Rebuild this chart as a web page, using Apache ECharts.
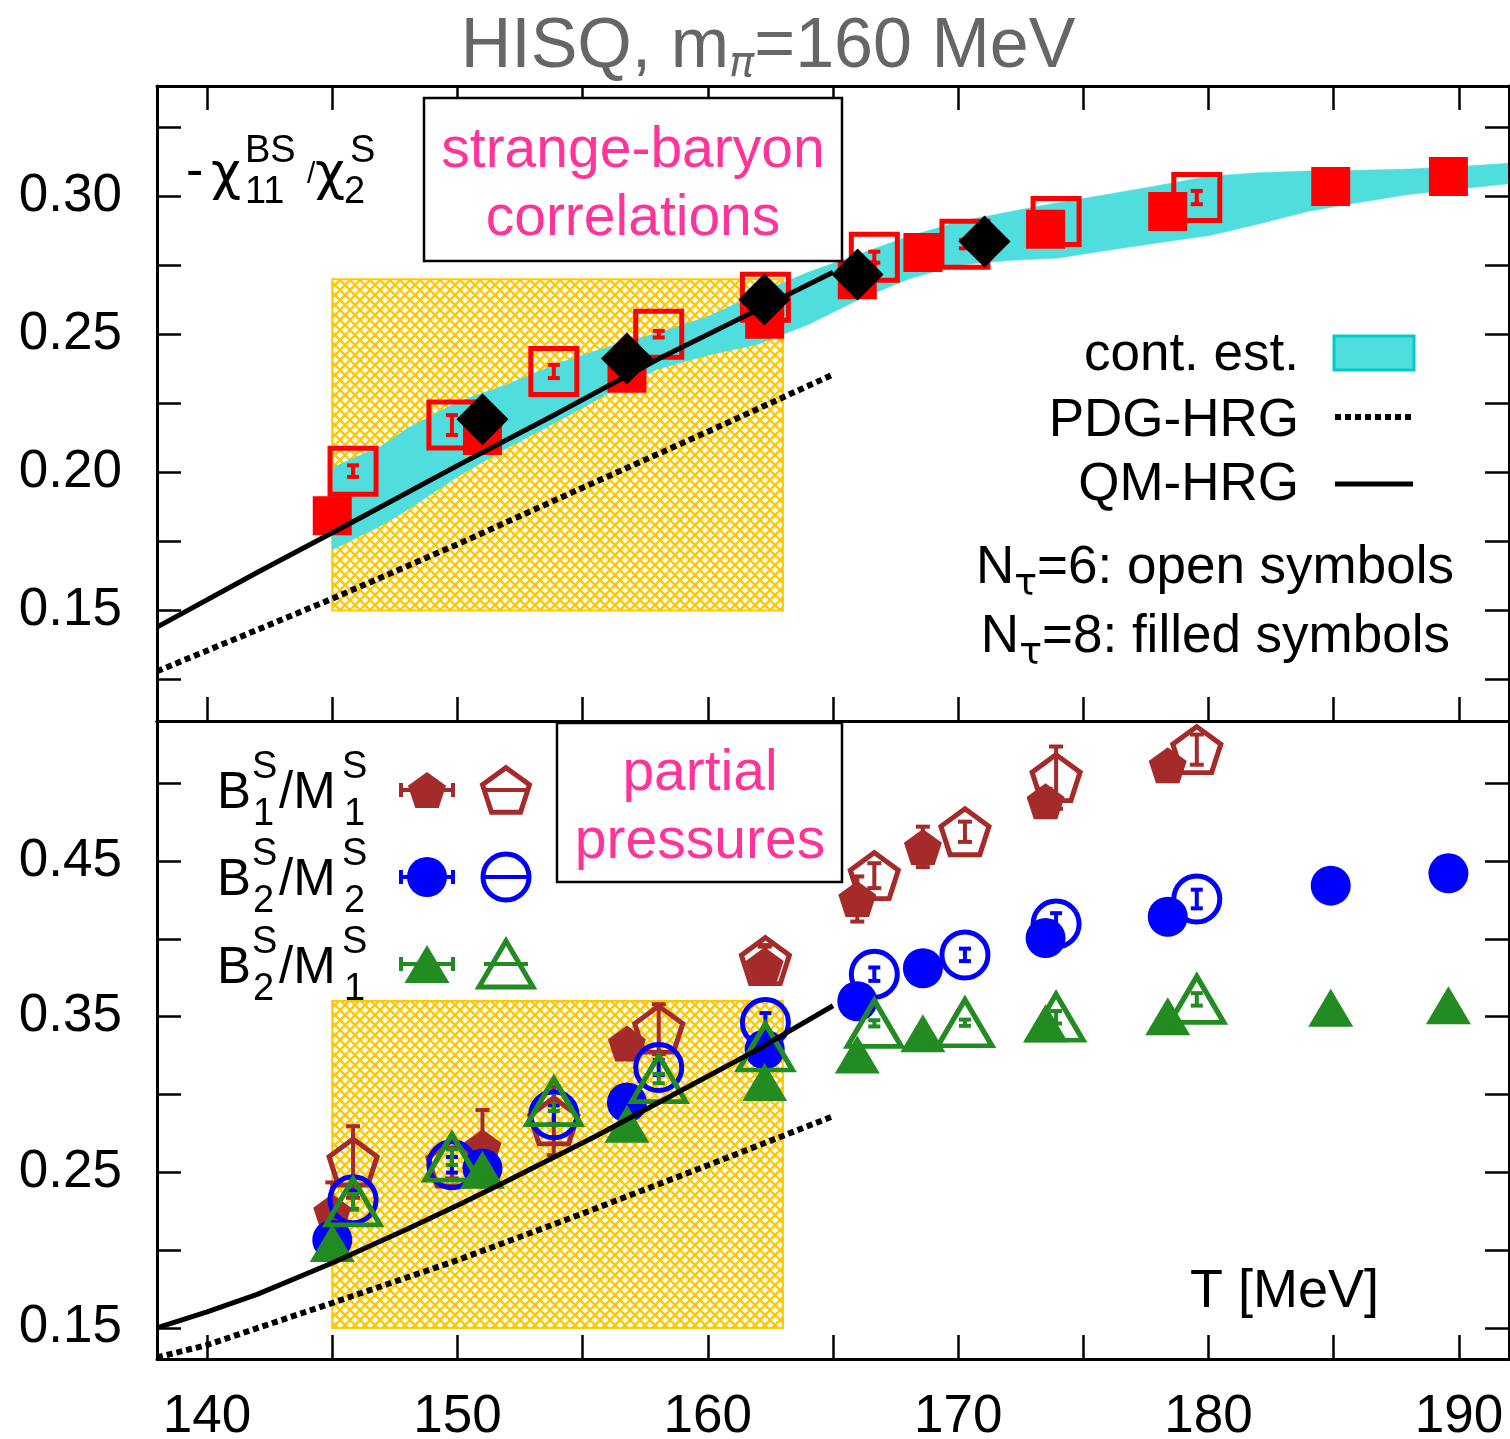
<!DOCTYPE html>
<html>
<head>
<meta charset="utf-8">
<script src="https://cdn.jsdelivr.net/npm/echarts@6/dist/echarts.min.js"></script>
<style>
  html, body { margin: 0; padding: 0; background: #fff; }
  #chart { width: 1510px; height: 1439px; }
</style>
</head>
<body>
<div id="chart"></div>
<script>
// ---------- axis ticks and labels ----------
const xTicks = [140, 145, 150, 155, 160, 165, 170, 175, 180, 185, 190];
const xTickLabels = [140, 150, 160, 170, 180, 190];
const topYTicks = [0.125, 0.15, 0.175, 0.2, 0.225, 0.25, 0.275, 0.3, 0.325];
const topYTickLabels = [0.15, 0.2, 0.25, 0.3];
const botYTicks = [0.15, 0.2, 0.25, 0.3, 0.35, 0.4, 0.45, 0.5];
const botYTickLabels = [0.15, 0.25, 0.35, 0.45];

// ---------- lattice temperatures (MeV) ----------
const tempsNt8 = [145.0, 151.0, 156.77, 162.27, 165.97, 168.59, 173.49, 178.37, 184.88, 189.58];
const tempsNt6 = [145.83, 149.78, 153.85, 158.04, 162.3, 166.65, 170.27, 173.91, 179.53];

// ---------- -chi11^BS / chi2^S ----------
const corrNt8 = [0.1843, 0.2134, 0.2360, 0.2555, 0.2698, 0.2797, 0.2881, 0.2945, 0.3036, 0.3072];
const corrNt6 = [0.2005, 0.2172, 0.2366, 0.2501, 0.2635, 0.2780, 0.2827, 0.2909, 0.2996];
const corrNt6Err = [0.0021, 0.0036, 0.0024, 0.0012, 0.0015, 0.0020, 0.0015, 0.0015, 0.0024];
const diamondTemps = [151.0, 156.77, 162.26, 165.98, 171.05];
const diamondCorr = [0.2193, 0.2413, 0.2627, 0.2717, 0.2837];

// continuum estimate band
const bandTemps = [145, 147, 148, 150, 152, 154, 156, 158, 160, 162, 164, 166, 168, 170, 172, 174, 176, 178, 180, 182, 184, 186, 188, 190, 192];
const bandUpper = [0.2018, 0.2098, 0.2160, 0.2255, 0.2320, 0.2395, 0.2455, 0.2505, 0.2565, 0.2648, 0.2725, 0.2790, 0.2855, 0.2908, 0.2944, 0.2978, 0.3008, 0.3040, 0.3073, 0.3086, 0.3092, 0.3095, 0.3099, 0.3108, 0.3120];
const bandLower = [0.1720, 0.1810, 0.1865, 0.1985, 0.2090, 0.2185, 0.2285, 0.2375, 0.2425, 0.2465, 0.2535, 0.2625, 0.2700, 0.2752, 0.2768, 0.2777, 0.2805, 0.2832, 0.2858, 0.2900, 0.2946, 0.2978, 0.3007, 0.3027, 0.3046];

// hadron resonance gas curves, upper panel
const qmTopTemps = [138, 142, 146, 150, 154, 158, 162, 165];
const qmTop = [0.1440, 0.1638, 0.1830, 0.2025, 0.2215, 0.2410, 0.2590, 0.2725];
const pdgTopTemps = [138, 142, 145, 150, 155, 160, 165];
const pdgTop = [0.1280, 0.1430, 0.1543, 0.1740, 0.1945, 0.2148, 0.2355];

// hadron resonance gas curves, lower panel
const qmBotTemps = [138, 140, 142, 145, 148, 150.2, 152, 155.5, 158, 160, 162, 165];
const qmBot = [0.1500, 0.1603, 0.1715, 0.1917, 0.2135, 0.2303, 0.2445, 0.2730, 0.2945, 0.3117, 0.3290, 0.3570];
const pdgBotTemps = [138, 140, 145, 150, 155, 160, 165];
const pdgBot = [0.1310, 0.1390, 0.1660, 0.1935, 0.2235, 0.2545, 0.2860];

// crossover region
const tcRangeT = [145, 163];
const tcRangeTop = [0.15, 0.27];
const tcRangeBottom = [0.15, 0.36];

// ---------- partial pressures ----------
const b1m1Nt8 = [0.2245, 0.2660, 0.3328, 0.3830, 0.4256, 0.4591, 0.4884, 0.5115];
const b1m1Nt8Err = [0.019, 0.024, 0.006, 0.012, 0.0145, 0.013, 0.008, 0.006];
const b1m1Nt6 = [0.2566, 0.2560, 0.2830, 0.3420, 0.3860, 0.4406, 0.4688, 0.5036, 0.5216];
const b1m1Nt6Err = [0.023, 0.010, 0.022, 0.016, 0.010, 0.008, 0.0065, 0.020, 0.0097];
const b2m2Nt8 = [0.2065, 0.2525, 0.2948, 0.3289, 0.3599, 0.3811, 0.4005, 0.4142, 0.4342, 0.4421];
const b2m2Nt8Err = [0.004, 0.004, 0.004, 0.004, 0.003, 0.003, 0.003, 0.003, 0.002, 0.002];
const b2m2Nt6 = [0.2323, 0.2548, 0.2870, 0.3173, 0.3463, 0.3773, 0.3897, 0.4095, 0.4256];
const b2m2Nt6Err = [0.006, 0.005, 0.006, 0.0048, 0.006, 0.0043, 0.004, 0.007, 0.006];
const b2m1Nt8 = [0.2046, 0.2516, 0.2812, 0.3080, 0.3257, 0.3394, 0.3457, 0.3502, 0.3558, 0.3573];
const b2m1Nt8Err = [0.003, 0.003, 0.003, 0.003, 0.002, 0.002, 0.002, 0.002, 0.002, 0.002];
const b2m1Nt6 = [0.2310, 0.2597, 0.2954, 0.3102, 0.3305, 0.3457, 0.3461, 0.3496, 0.3611];
const b2m1Nt6Err = [0.005, 0.005, 0.006, 0.003, 0.004, 0.002, 0.002, 0.004, 0.004];

// ---------- styling ----------
const FONT = '"Liberation Sans", Arial, Helvetica, sans-serif';
const GREEK = '"DejaVu Sans", "Liberation Sans", sans-serif';
const RED = '#ff0000', BROWN = '#a52a2a', BLUE = '#0000ff', GREEN = '#228b22';
const CYAN = '#50dddd', GOLD = '#ffc800', PINK = '#ff3399';
const PENTAGON = 'path://M50 0L97.553 34.549L79.389 90.451L20.611 90.451L2.447 34.549Z';

// cross-hatch fill for the crossover region
const hatch = document.createElement('canvas');
hatch.width = 10; hatch.height = 10;
(function () {
  const c = hatch.getContext('2d');
  c.strokeStyle = GOLD; c.lineWidth = 2.3;
  c.beginPath();
  c.moveTo(-1, -1); c.lineTo(11, 11);
  c.moveTo(11, -1); c.lineTo(-1, 11);
  c.stroke();
})();

const pairs = (xs, ys) => ys.map((v, i) => [xs[i], v]);

function scatter(xs, ys, symbol, size, color, open, xi, yi) {
  return {
    type: 'scatter', xAxisIndex: xi, yAxisIndex: yi, data: pairs(xs, ys),
    symbol, symbolSize: size, silent: true, animation: false,
    itemStyle: open
      ? { color: 'rgba(0,0,0,0)', borderColor: color, borderWidth: 5, opacity: 1 }
      : { color, borderWidth: 0, opacity: 1 }
  };
}

function errorBars(xs, ys, es, color, xi, yi, capHalf, lw) {
  return {
    type: 'custom', xAxisIndex: xi, yAxisIndex: yi, silent: true, animation: false, clip: true,
    data: ys.map((v, i) => [xs[i], v, es[i]]),
    renderItem(params, api) {
      const t = api.value(0), v = api.value(1), e = api.value(2);
      const lo = api.coord([t, v - e]), hi = api.coord([t, v + e]);
      const st = { stroke: color, lineWidth: lw, fill: null };
      return {
        type: 'group', children: [
          { type: 'line', shape: { x1: lo[0], y1: lo[1], x2: hi[0], y2: hi[1] }, style: st },
          { type: 'line', shape: { x1: lo[0] - capHalf, y1: lo[1], x2: lo[0] + capHalf, y2: lo[1] }, style: st },
          { type: 'line', shape: { x1: hi[0] - capHalf, y1: hi[1], x2: hi[0] + capHalf, y2: hi[1] }, style: st }
        ]
      };
    }
  };
}

function line(xs, ys, dotted, xi, yi) {
  return {
    type: 'line', xAxisIndex: xi, yAxisIndex: yi, data: pairs(xs, ys), showSymbol: false,
    silent: true, animation: false,
    lineStyle: dotted ? { color: '#000', width: 6, type: [6, 4], cap: 'butt' } : { color: '#000', width: 5 }
  };
}

function hatchRect(yRange, xi, yi) {
  return {
    type: 'custom', xAxisIndex: xi, yAxisIndex: yi, silent: true, animation: false, clip: true,
    data: [[tcRangeT[0], yRange[0], tcRangeT[1], yRange[1]]],
    renderItem(params, api) {
      const a = api.coord([api.value(0), api.value(3)]);
      const b = api.coord([api.value(2), api.value(1)]);
      return {
        type: 'rect', shape: { x: a[0], y: a[1], width: b[0] - a[0], height: b[1] - a[1] },
        style: { fill: { image: hatch, repeat: 'repeat' }, stroke: GOLD, lineWidth: 2 }
      };
    }
  };
}

const bandSeries = {
  type: 'custom', xAxisIndex: 0, yAxisIndex: 0, silent: true, animation: false, clip: true,
  data: [[bandTemps[0], bandUpper[0]]],
  renderItem(params, api) {
    const pts = bandTemps.map((t, i) => api.coord([t, bandUpper[i]]));
    for (let i = bandTemps.length - 1; i >= 0; i--) pts.push(api.coord([bandTemps[i], bandLower[i]]));
    return { type: 'polygon', shape: { points: pts }, style: { fill: CYAN, stroke: CYAN, lineWidth: 0.5 } };
  }
};

// ---------- axes ----------
const tickStyle = (vals) => ({ show: true, inside: true, length: 24, customValues: vals, lineStyle: { color: '#000', width: 2.5 } });
const lineStyle = { show: true, onZero: false, lineStyle: { color: '#000', width: 3 } };
const labelStyle = (vals, fmt, margin) => ({
  show: true, customValues: vals, formatter: fmt, margin,
  fontFamily: FONT, fontSize: 53, color: '#000'
});
const noLabel = { show: false };

const xBase = { type: 'value', min: 138, max: 192, splitLine: { show: false }, z: 10 };
const xAxis = [
  Object.assign({}, xBase, { gridIndex: 0, position: 'bottom', axisLine: lineStyle, axisTick: tickStyle(xTicks), axisLabel: noLabel }),
  Object.assign({}, xBase, { gridIndex: 0, position: 'top', axisLine: lineStyle, axisTick: tickStyle(xTicks), axisLabel: noLabel }),
  Object.assign({}, xBase, { gridIndex: 1, position: 'bottom', axisLine: lineStyle, axisTick: tickStyle(xTicks),
    axisLabel: labelStyle(xTickLabels, v => String(Math.round(v)), 32) }),
  Object.assign({}, xBase, { gridIndex: 1, position: 'top', axisLine: lineStyle, axisTick: { show: false }, axisLabel: noLabel })
];

const yAxis = [
  { type: 'value', gridIndex: 0, position: 'left', min: 0.11, max: 0.34, splitLine: { show: false }, z: 10,
    axisLine: lineStyle, axisTick: tickStyle(topYTicks), axisLabel: labelStyle(topYTickLabels, v => v.toFixed(2), 35) },
  { type: 'value', gridIndex: 0, position: 'right', min: 0.11, max: 0.34, splitLine: { show: false }, z: 10,
    axisLine: lineStyle, axisTick: tickStyle(topYTicks), axisLabel: noLabel },
  { type: 'value', gridIndex: 1, position: 'left', min: 0.13, max: 0.54, splitLine: { show: false }, z: 10,
    axisLine: lineStyle, axisTick: tickStyle(botYTicks), axisLabel: labelStyle(botYTickLabels, v => v.toFixed(2), 35) },
  { type: 'value', gridIndex: 1, position: 'right', min: 0.13, max: 0.54, splitLine: { show: false }, z: 10,
    axisLine: lineStyle, axisTick: tickStyle(botYTicks), axisLabel: noLabel }
];

// ---------- text helpers ----------
const mctx = document.createElement('canvas').getContext('2d');
function measure(t, size, pre, fam) { mctx.font = (pre || '') + ' ' + size + 'px ' + (fam || FONT); return mctx.measureText(t).width; }
// place text by its baseline
function textAt(t, x, base, size, color, align, pre, fam) {
  return {
    type: 'text', z: 40, x, y: base - 0.27 * size, silent: true,
    style: {
      text: t, fill: color || '#000', font: (pre || '') + ' ' + size + 'px ' + (fam || FONT),
      align: align || 'left', textAlign: align || 'left', verticalAlign: 'middle', textVerticalAlign: 'middle'
    }
  };
}
function run(parts, x, base, align, color) {
  let w = 0; parts.forEach(p => { w += measure(p.t, p.s, p.f, p.fam); });
  let cx = align === 'right' ? x - w : align === 'center' ? x - w / 2 : x;
  return parts.map(p => {
    const el = textAt(p.t, cx, base + (p.dy || 0), p.s, color, 'left', p.f, p.fam);
    cx += measure(p.t, p.s, p.f, p.fam);
    return el;
  });
}

function pentagonPts(cx, cy, w) {
  const R = w / 1.902, h = R * 1.809, ccy = cy - h / 2 + R, pts = [];
  for (let k = 0; k < 5; k++) {
    const a = -Math.PI / 2 + k * 2 * Math.PI / 5;
    pts.push([cx + R * Math.cos(a), ccy + R * Math.sin(a)]);
  }
  return pts;
}
function trianglePts(cx, cy, w, h) { return [[cx, cy - h / 2], [cx + w / 2, cy + h / 2], [cx - w / 2, cy + h / 2]]; }

function keyRow(cy, color, kind) {
  const els = [];
  const st = { stroke: color, lineWidth: 4, fill: null };
  els.push({ type: 'line', z: 40, shape: { x1: 401, y1: cy, x2: 453, y2: cy }, style: st });
  els.push({ type: 'line', z: 40, shape: { x1: 401, y1: cy - 7, x2: 401, y2: cy + 7 }, style: st });
  els.push({ type: 'line', z: 40, shape: { x1: 453, y1: cy - 7, x2: 453, y2: cy + 7 }, style: st });
  const openSt = { stroke: color, lineWidth: 5, fill: null };
  if (kind === 'pent') {
    els.push({ type: 'polygon', z: 41, shape: { points: pentagonPts(427, cy, 38) }, style: { fill: color } });
    els.push({ type: 'polygon', z: 41, shape: { points: pentagonPts(506, cy, 47) }, style: openSt });
  } else if (kind === 'circ') {
    els.push({ type: 'circle', z: 41, shape: { cx: 427, cy, r: 20 }, style: { fill: color } });
    els.push({ type: 'circle', z: 41, shape: { cx: 506, cy, r: 23 }, style: openSt });
  } else {
    els.push({ type: 'polygon', z: 41, shape: { points: trianglePts(427, cy, 45, 38) }, style: { fill: color } });
    els.push({ type: 'polygon', z: 41, shape: { points: trianglePts(506, cy, 54, 46) }, style: openSt });
  }
  els.push({ type: 'line', z: 41, shape: { x1: 484, y1: cy, x2: 528, y2: cy }, style: { stroke: color, lineWidth: 4 } });
  return els;
}
function ratioLabel(base, a, b) {
  return [
    textAt('B', 217, base, 51),
    textAt('S', 252, base - 30, 38),
    textAt(a, 253, base + 17, 38),
    textAt('/M', 279, base, 51),
    textAt('S', 342, base - 30, 38),
    textAt(b, 344, base + 17, 38)
  ];
}

const graphics = [].concat(
  // title
  run([{ t: 'HISQ, m', s: 70 }, { t: 'π', s: 42, dy: 9, f: 'italic', fam: GREEK }, { t: '=160 MeV', s: 70 }], 768, 67, 'center', '#666666'),
  // observable label, upper panel
  [
    textAt('-', 186, 187, 52),
    textAt('χ', 211, 190, 52, '#000', 'left', '', GREEK),
    textAt('11', 245, 203, 38),
    textAt('BS', 245, 162, 38),
    textAt('/', 307, 183, 30),
    textAt('χ', 315, 190, 52, '#000', 'left', '', GREEK),
    textAt('2', 344, 203, 38),
    textAt('S', 350, 162, 38)
  ],
  // annotation boxes
  [
    { type: 'rect', z: 35, shape: { x: 424, y: 98, width: 418, height: 163 }, style: { fill: '#fff', stroke: '#000', lineWidth: 2.5 } },
    textAt('strange-baryon', 633, 167, 57, PINK, 'center'),
    textAt('correlations', 633, 235, 57, PINK, 'center'),
    { type: 'rect', z: 35, shape: { x: 557, y: 723, width: 285, height: 159 }, style: { fill: '#fff', stroke: '#000', lineWidth: 2.5 } },
    textAt('partial', 700, 790, 57, PINK, 'center'),
    textAt('pressures', 700, 858, 57, PINK, 'center')
  ],
  // key, upper panel
  [
    textAt('cont. est.', 1299, 370, 53, '#000', 'right'),
    { type: 'rect', z: 40, shape: { x: 1334, y: 336, width: 80, height: 34 }, style: { fill: CYAN, stroke: '#00cccc', lineWidth: 3 } },
    textAt('PDG-HRG', 1299, 436, 53, '#000', 'right'),
    { type: 'line', z: 40, shape: { x1: 1335, y1: 417, x2: 1413, y2: 417 }, style: { stroke: '#000', lineWidth: 6, lineDash: [6, 4] } },
    textAt('QM-HRG', 1299, 500, 53, '#000', 'right'),
    { type: 'line', z: 40, shape: { x1: 1335, y1: 484, x2: 1413, y2: 484 }, style: { stroke: '#000', lineWidth: 5 } }
  ],
  run([{ t: 'N', s: 53 }, { t: 'τ', s: 38, dy: 12, fam: GREEK }, { t: '=6: open symbols', s: 53 }], 1454, 583, 'right'),
  run([{ t: 'N', s: 53 }, { t: 'τ', s: 38, dy: 12, fam: GREEK }, { t: '=8: filled symbols', s: 53 }], 1450, 652, 'right'),
  // key, lower panel
  ratioLabel(808, '1', '1'), keyRow(790, BROWN, 'pent'),
  ratioLabel(895, '2', '2'), keyRow(877, BLUE, 'circ'),
  ratioLabel(983, '2', '1'), keyRow(964, GREEN, 'tri'),
  [textAt('T [MeV]', 1190, 1307, 54)]
);

const series = [
  // upper panel
  hatchRect(tcRangeTop, 0, 0),
  bandSeries,
  line(pdgTopTemps, pdgTop, true, 0, 0),
  line(qmTopTemps, qmTop, false, 0, 0),
  errorBars(tempsNt6, corrNt6, corrNt6Err, RED, 0, 0, 6, 4),
  scatter(tempsNt6, corrNt6, 'rect', 46, RED, true, 0, 0),
  scatter(tempsNt8, corrNt8, 'rect', 39, RED, false, 0, 0),
  scatter(diamondTemps, diamondCorr, 'diamond', 52, '#000', false, 0, 0),
  // lower panel
  hatchRect(tcRangeBottom, 2, 2),
  line(pdgBotTemps, pdgBot, true, 2, 2),
  line(qmBotTemps, qmBot, false, 2, 2),
  errorBars(tempsNt8, b1m1Nt8, b1m1Nt8Err, BROWN, 2, 2, 7, 4),
  scatter(tempsNt8, b1m1Nt8, PENTAGON, [38, 36], BROWN, false, 2, 2),
  errorBars(tempsNt6, b1m1Nt6, b1m1Nt6Err, BROWN, 2, 2, 7, 4),
  scatter(tempsNt6, b1m1Nt6, PENTAGON, [48, 46], BROWN, true, 2, 2),
  errorBars(tempsNt8, b2m2Nt8, b2m2Nt8Err, BLUE, 2, 2, 7, 4),
  scatter(tempsNt8, b2m2Nt8, 'circle', 40, BLUE, false, 2, 2),
  errorBars(tempsNt6, b2m2Nt6, b2m2Nt6Err, BLUE, 2, 2, 6, 4),
  scatter(tempsNt6, b2m2Nt6, 'circle', 46, BLUE, true, 2, 2),
  errorBars(tempsNt8, b2m1Nt8, b2m1Nt8Err, GREEN, 2, 2, 7, 4),
  scatter(tempsNt8, b2m1Nt8, 'triangle', [45, 38], GREEN, false, 2, 2),
  errorBars(tempsNt6, b2m1Nt6, b2m1Nt6Err, GREEN, 2, 2, 6, 4),
  scatter(tempsNt6, b2m1Nt6, 'triangle', [54, 46], GREEN, true, 2, 2)
];

const chart = echarts.init(document.getElementById('chart'), null, { renderer: 'canvas' });
chart.setOption({
  animation: false,
  backgroundColor: '#fff',
  textStyle: { fontFamily: FONT },
  grid: [
    { left: 157, top: 86, width: 1352, height: 635, outerBoundsMode: 'none', containLabel: false },
    { left: 157, top: 721, width: 1352, height: 638, outerBoundsMode: 'none', containLabel: false }
  ],
  xAxis, yAxis, series,
  graphic: { elements: graphics }
});
</script>
</body>
</html>
